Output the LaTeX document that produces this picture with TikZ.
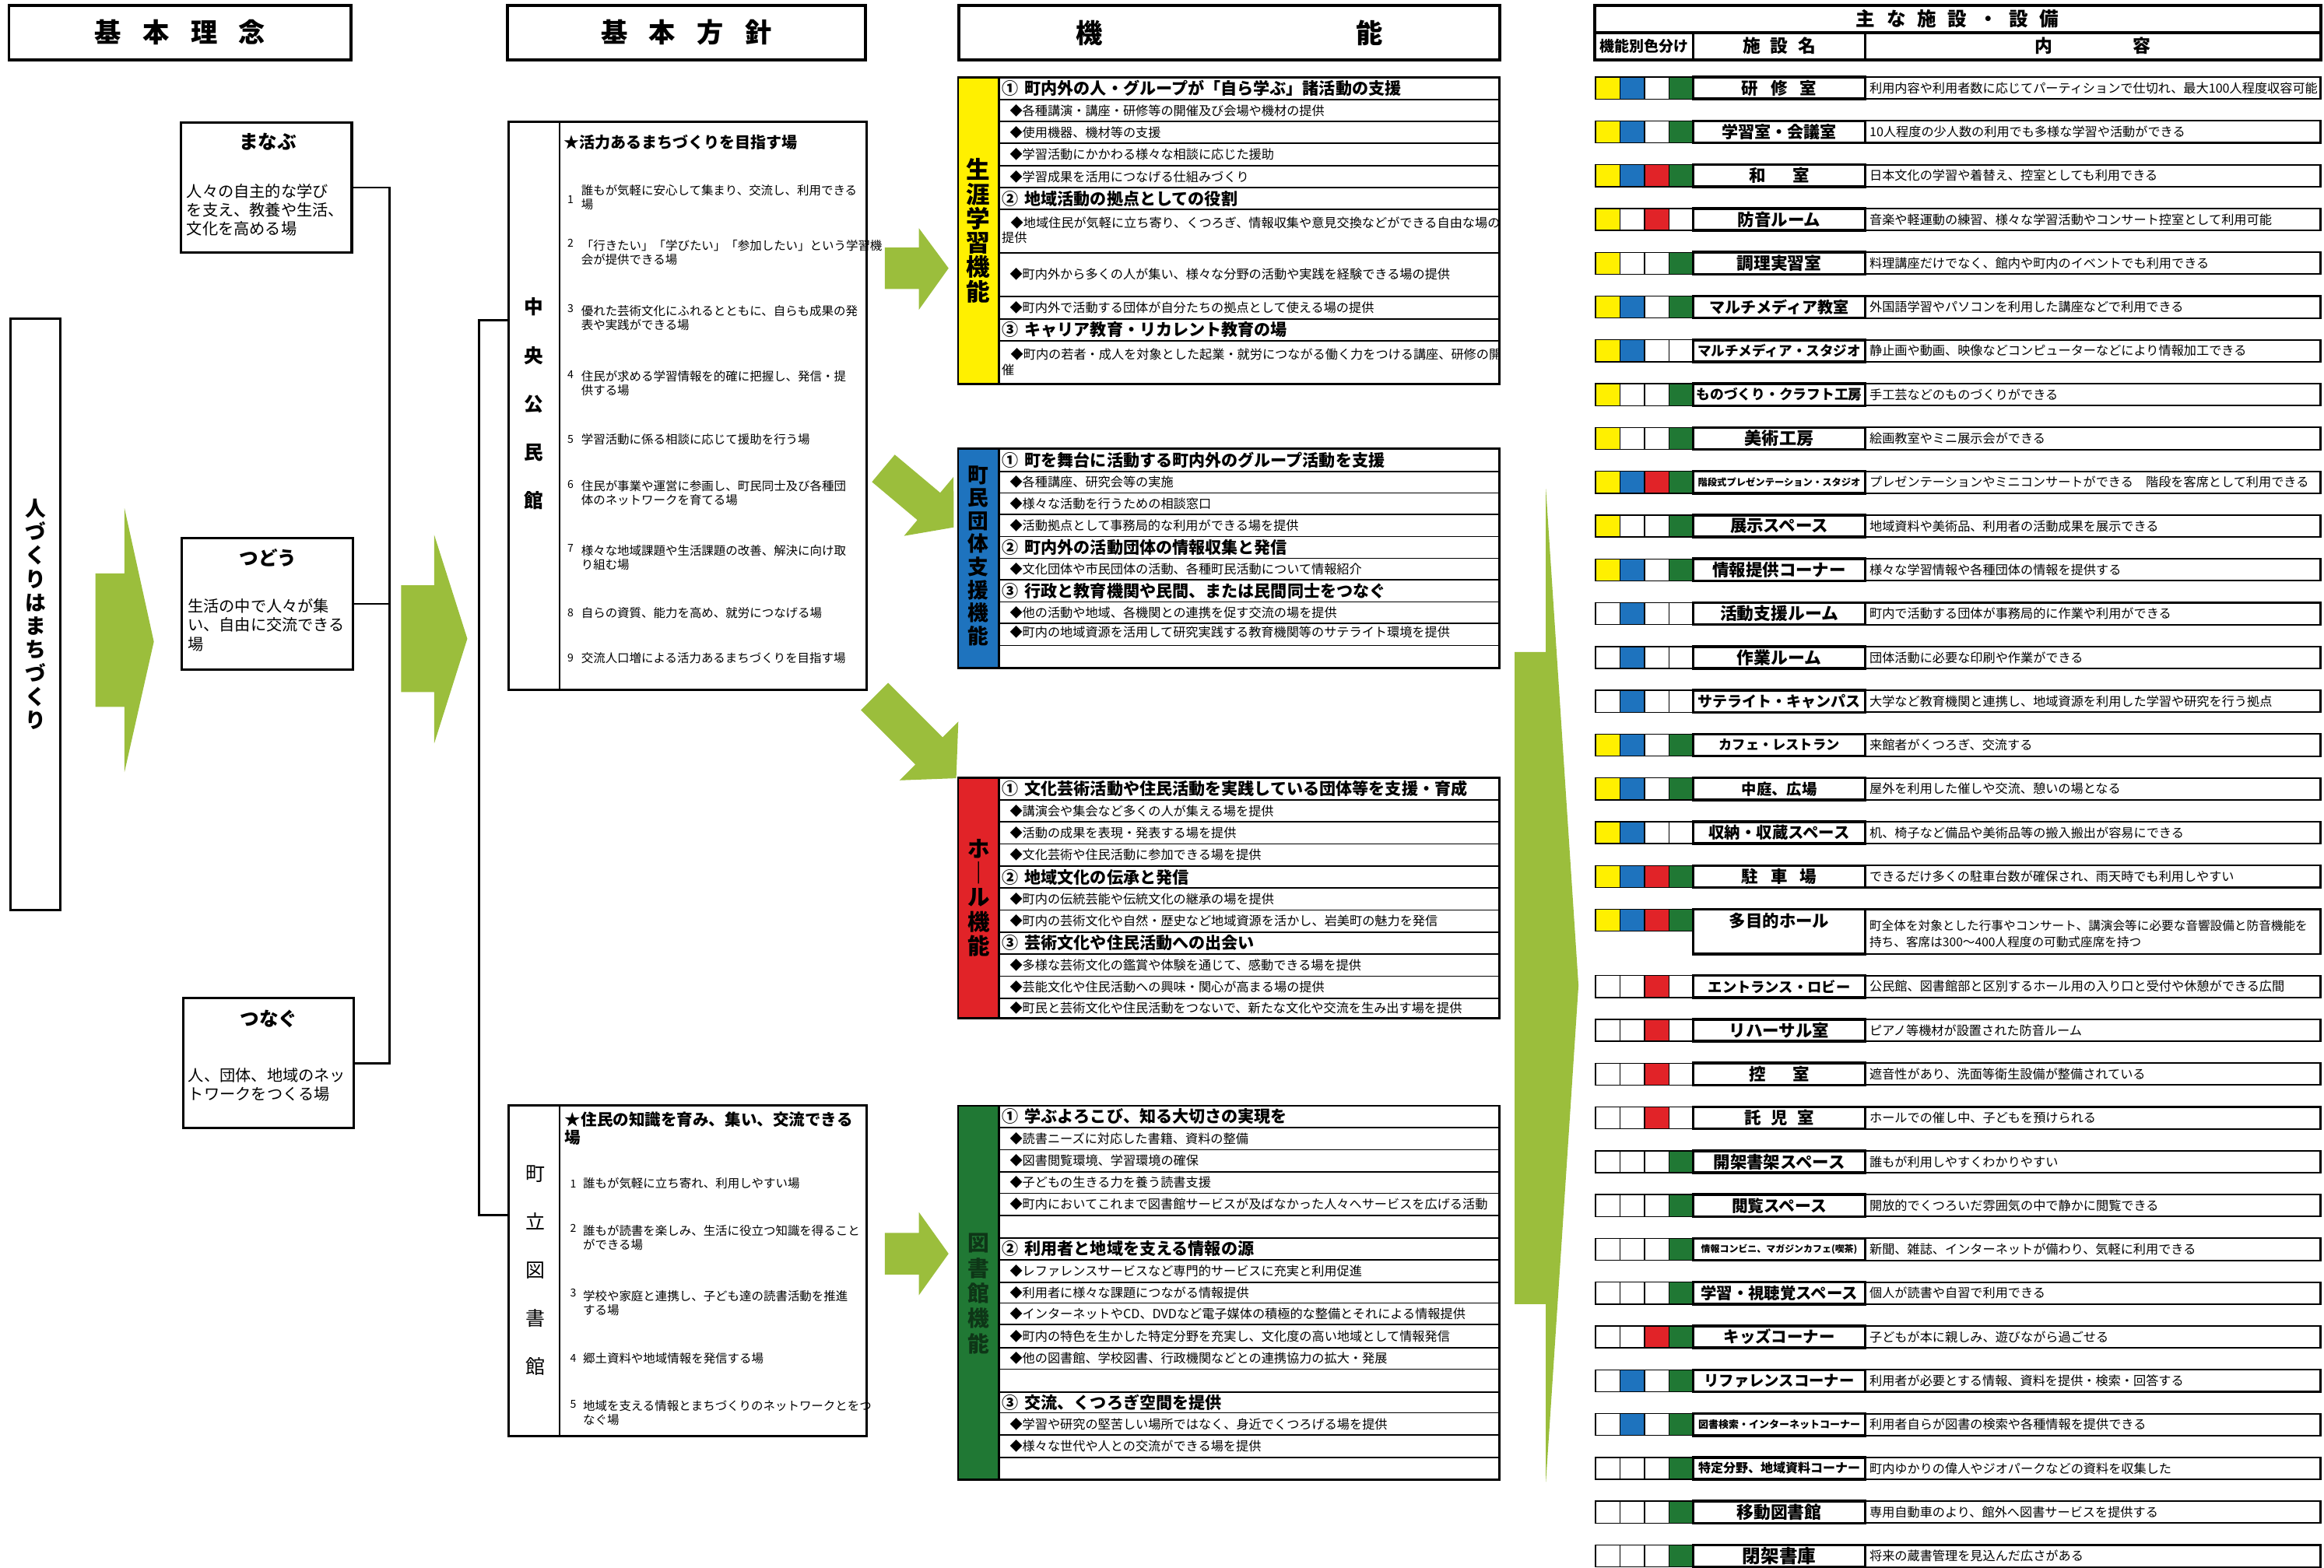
\documentclass[tikz,border=0pt]{standalone}
\usepackage{fontspec}
\setmainfont{Noto Sans CJK JP}
\usetikzlibrary{positioning}

\definecolor{lifeyellow}{RGB}{255,240,0}
\definecolor{groupblue}{RGB}{30,115,190}
\definecolor{hallred}{RGB}{225,35,40}
\definecolor{libgreen}{RGB}{32,120,52}
\definecolor{arrowgreen}{RGB}{155,190,60}

\tikzset{
    headbox/.style={draw, line width=1.1pt, inner sep=0pt, font=\fontsize{9.75}{11}\selectfont\bfseries},
    ideabox/.style={draw, line width=0.9pt, inner sep=0pt},
    ideatitle/.style={inner sep=0pt, font=\fontsize{7}{8}\selectfont\bfseries},
    ideatext/.style={anchor=west, align=left, inner sep=0pt, font=\fontsize{5.75}{6.9}\selectfont},
    policybox/.style={draw, line width=0.9pt, inner sep=0pt},
    ptitle/.style={anchor=west, align=left, inner sep=0pt, font=\fontsize{5.7}{6.6}\selectfont\bfseries},
    pnum/.style={anchor=west, inner sep=0pt, font=\fontsize{4}{5}\selectfont},
    pitem/.style={anchor=west, align=left, inner sep=0pt, font=\fontsize{4.4}{5.15}\selectfont},
    funcframe/.style={draw, line width=0.8pt},
    rowline/.style={line width=0.5pt},
    vlabel/.style={align=center, inner sep=0pt},
    fhead/.style={anchor=west, inner sep=0pt, font=\fontsize{6}{7}\selectfont\bfseries},
    fitem/.style={anchor=west, align=left, inner sep=0pt, font=\fontsize{4.6}{5.5}\selectfont},
    colorcell/.style={draw, line width=0.4pt},
    namecell/.style={draw, line width=1pt},
    textcell/.style={draw, line width=0.6pt},
    facinfo/.style={anchor=west, align=left, inner sep=0pt, font=\fontsize{4.6}{6}\selectfont},
    bracketline/.style={line width=0.8pt},
    bigarrow/.style={fill=arrowgreen}
}

\begin{document}
\begin{tikzpicture}[x=0.01904cm, y=-0.01904cm]
\useasboundingbox (0,0) rectangle (1568,1058);
\fill[white] (0,0) rectangle (1568,1058);

% ===== column heads =====
\node[headbox, minimum width=4.398cm, minimum height=0.706cm] (rinen) at (121.5,22) {基\hspace{.8em}本\hspace{.8em}理\hspace{.8em}念};
\node[headbox, minimum width=4.598cm, minimum height=0.706cm] (hoshin) at (463,22) {基\hspace{.8em}本\hspace{.8em}方\hspace{.8em}針};
\node[headbox, minimum width=6.950cm, minimum height=0.706cm] (kino) at (829.5,22) {機\hspace{9.5em}能};

% ===== basic idea =====
\node[draw, line width=0.9pt, minimum width=0.64cm, minimum height=7.6cm, align=center, inner sep=0pt,
      font=\fontsize{7.6}{8.6}\selectfont\bfseries] (hito) at (24.1,414.5) {人\\づ\\く\\り\\は\\ま\\ち\\づ\\く\\り};

\node[ideabox, minimum width=2.197cm, minimum height=1.677cm] (manabu) at (179.7,126.55) {};
\node[ideatitle] (manabuT) at (180.7,95.6) {まなぶ};
\node[ideatext] (manabuB) at (125.6,141.6) {人々の自主的な学び\\を支え、教養や生活、\\文化を高める場};

\node[ideabox, minimum width=2.199cm, minimum height=1.685cm] (tsudou) at (180.25,407.5) {};
\node[ideatitle] (tsudouT) at (181,376.5) {つどう};
\node[ideatext] (tsudouB) at (126.3,421.8) {生活の中で人々が集\\い、自由に交流できる\\場};

\node[ideabox, minimum width=2.193cm, minimum height=1.668cm] (tsunagu) at (181.2,717.4) {};
\node[ideatitle] (tsunaguT) at (181.5,687.3) {つなぐ};
\node[ideatext] (tsunaguB) at (126.7,732) {人、団体、地域のネッ\\トワークをつくる場};

\draw[bracketline] (manabu.east) -| (262.7,717.4) -- (tsunagu.east);
\draw[bracketline] (tsudou.east) -- (tsudou.east -| 262.7,0);

% green arrows
\fill[bigarrow] (64.4,387) -- (84,387) -- (84,343) -- (103.8,433) -- (84,521) -- (84,477) -- (64.4,477) -- cycle;
\fill[bigarrow] (270.6,395) -- (293,395) -- (293,361) -- (315.3,431) -- (293,501.6) -- (293,467) -- (270.6,467) -- cycle;
\fill[bigarrow] (597,167) -- (620,167) -- (620,154) -- (640,181) -- (620,209) -- (620,195) -- (597,195) -- cycle;
\fill[bigarrow] (597,832) -- (620,832) -- (620,818) -- (640,846) -- (620,874) -- (620,860) -- (597,860) -- cycle;
\begin{scope}[shift={(596,316)}, rotate=-40]
    \fill[bigarrow] (0,-12) -- (40,-12) -- (40,-26) -- (62,0) -- (40,26) -- (40,12) -- (0,12) -- cycle;
\end{scope}
\begin{scope}[shift={(590,470)}, rotate=-45]
    \fill[bigarrow] (0,-13) -- (52,-13) -- (52,-28) -- (78,0) -- (52,28) -- (52,13) -- (0,13) -- cycle;
\end{scope}
\fill[bigarrow] (1022,440) -- (1043,440) -- (1043,330) -- (1065,665) -- (1043,1000) -- (1043,880) -- (1022,880) -- cycle;

% ===== basic policy: kominkan =====
\node[policybox, minimum width=4.600cm, minimum height=7.302cm] (kominkan) at (463.9,273.75) {};
\draw[line width=0.7pt] (377.5,82) -- (377.5,465.5);
\node[vlabel, font=\fontsize{7}{17.7}\selectfont\bfseries] (kominkanL) at (360,272.5) {中\\央\\公\\民\\館};
\node[ptitle] (kominkanT) at (380,96) {★活力あるまちづくりを目指す場};
\node[pnum] (kn1) at (382.5,134.6) {1};
\node[pitem] (ki1) at (391.8,133.4) {誰もが気軽に安心して集まり、交流し、利用できる\\場};
\node[pnum] (kn2) at (382.5,163.9) {2};
\node[pitem] (ki2) at (391.8,170.3) {「行きたい」「学びたい」「参加したい」という学習機\\会が提供できる場};
\node[pnum] (kn3) at (382.5,208.3) {3};
\node[pitem] (ki3) at (391.8,214.8) {優れた芸術文化にふれるとともに、自らも成果の発\\表や実践ができる場};
\node[pnum] (kn4) at (382.5,253) {4};
\node[pitem] (ki4) at (391.8,258.8) {住民が求める学習情報を的確に把握し、発信・提\\供する場};
\node[pnum] (kn5) at (382.5,296.3) {5};
\node[pitem] (ki5) at (391.8,296.3) {学習活動に係る相談に応じて援助を行う場};
\node[pnum] (kn6) at (382.5,326.9) {6};
\node[pitem] (ki6) at (391.8,332.6) {住民が事業や運営に参画し、町民同士及び各種団\\体のネットワークを育てる場};
\node[pnum] (kn7) at (382.5,370.1) {7};
\node[pitem] (ki7) at (391.8,376.5) {様々な地域課題や生活課題の改善、解決に向け取\\り組む場};
\node[pnum] (kn8) at (382.5,413.4) {8};
\node[pitem] (ki8) at (391.8,413.4) {自らの資質、能力を高め、就労につなげる場};
\node[pnum] (kn9) at (382.5,443.9) {9};
\node[pitem] (ki9) at (391.8,443.9) {交流人口増による活力あるまちづくりを目指す場};

% ===== basic policy: toshokan =====
\node[policybox, minimum width=4.600cm, minimum height=4.252cm] (toshokan) at (463.9,857.65) {};
\draw[line width=0.7pt] (377.5,746) -- (377.5,969.3);
\node[vlabel, font=\fontsize{7.1}{17.7}\selectfont] (toshokanL) at (361.4,857.3) {町\\立\\図\\書\\館};
\node[ptitle, font=\fontsize{5.85}{6.6}\selectfont\bfseries] (toshokanT) at (380.8,761.6) {★住民の知識を育み、集い、交流できる\\場};
\node[pnum] (tn1) at (384.3,798.7) {1};
\node[pitem] (ti1) at (393,798.7) {誰もが気軽に立ち寄れ、利用しやすい場};
\node[pnum] (tn2) at (384.3,828.6) {2};
\node[pitem] (ti2) at (393,835.2) {誰もが読書を楽しみ、生活に役立つ知識を得ること\\ができる場};
\node[pnum] (tn3) at (384.3,872.7) {3};
\node[pitem] (ti3) at (393,879.3) {学校や家庭と連携し、子ども達の読書活動を推進\\する場};
\node[pnum] (tn4) at (384.3,916.8) {4};
\node[pitem] (ti4) at (393,916.8) {郷土資料や地域情報を発信する場};
\node[pnum] (tn5) at (384.3,947.8) {5};
\node[pitem] (ti5) at (393,953.4) {地域を支える情報とまちづくりのネットワークとをつ\\なぐ場};

\draw[bracketline] (kominkan.west |- 0,216) -- (323,216) |- (toshokan.west |- 0,820);

% ===== function: lifelong learning =====
\fill[lifeyellow] (646.4,52.2) rectangle (674,259.1);
\foreach \ry in {67.1,81.9,96.8,111.7,126.6,141.4,170.7,200.1,215.3,229.9}
    \draw[rowline] (674,\ry) -- (1011.5,\ry);
\draw[funcframe] (646.4,52.2) rectangle (1011.5,259.1);
\draw[funcframe] (674,52.2) -- (674,259.1);
\node[vlabel, font=\fontsize{8.7}{8.9}\selectfont\bfseries] (lifeL) at (660.2,155.6) {生\\涯\\学\\習\\機\\能};
\node[fhead] (life1) at (675.5,59.65) {①\hspace{.4em}町内外の人・グループが「自ら学ぶ」諸活動の支援};
\node[fitem] (life2) at (681,74.5) {◆各種講演・講座・研修等の開催及び会場や機材の提供};
\node[fitem] (life3) at (681,89.35) {◆使用機器、機材等の支援};
\node[fitem] (life4) at (681,104.25) {◆学習活動にかかわる様々な相談に応じた援助};
\node[fitem] (life5) at (681,119.15) {◆学習成果を活用につなげる仕組みづくり};
\node[fhead] (life6) at (675.5,134) {②\hspace{.4em}地域活動の拠点としての役割};
\node[fitem] (life7) at (675.5,155.4) {\hspace*{3.3pt}◆地域住民が気軽に立ち寄り、くつろぎ、情報収集や意見交換などができる自由な場の\\提供};
\node[fitem] (life8) at (681,185) {◆町内外から多くの人が集い、様々な分野の活動や実践を経験できる場の提供};
\node[fitem] (life9) at (681,207.7) {◆町内外で活動する団体が自分たちの拠点として使える場の提供};
\node[fhead] (life10) at (675.5,222.6) {③\hspace{.4em}キャリア教育・リカレント教育の場};
\node[fitem] (life11) at (675.5,244.3) {\hspace*{3.3pt}◆町内の若者・成人を対象とした起業・就労につながる働く力をつける講座、研修の開\\催};

% ===== function: group support =====
\fill[groupblue] (646.4,302.9) rectangle (674,450.8);
\foreach \ry in {318.1,332.6,347.2,362,376.8,391.3,406.2,420.7,435.6}
    \draw[rowline] (674,\ry) -- (1011.5,\ry);
\draw[funcframe] (646.4,302.9) rectangle (1011.5,450.8);
\draw[funcframe] (674,302.9) -- (674,450.8);
\node[vlabel, font=\fontsize{7.6}{8.4}\selectfont\bfseries] (groupL) at (660.2,375) {町\\民\\団\\体\\支\\援\\機\\能};
\node[fhead] (group1) at (675.5,310.5) {①\hspace{.4em}町を舞台に活動する町内外のグループ活動を支援};
\node[fitem] (group2) at (681,325.35) {◆各種講座、研究会等の実施};
\node[fitem] (group3) at (681,339.9) {◆様々な活動を行うための相談窓口};
\node[fitem] (group4) at (681,354.6) {◆活動拠点として事務局的な利用ができる場を提供};
\node[fhead] (group5) at (675.5,369.4) {②\hspace{.4em}町内外の活動団体の情報収集と発信};
\node[fitem] (group6) at (681,384.05) {◆文化団体や市民団体の活動、各種町民活動について情報紹介};
\node[fhead] (group7) at (675.5,398.75) {③\hspace{.4em}行政と教育機関や民間、または民間同士をつなぐ};
\node[fitem] (group8) at (681,413.45) {◆他の活動や地域、各機関との連携を促す交流の場を提供};
\node[fitem] (group9) at (681,426.8) {◆町内の地域資源を活用して研究実践する教育機関等のサテライト環境を提供};

% ===== function: hall =====
\fill[hallred] (646.4,524.7) rectangle (674,687.2);
\foreach \ry in {539.7,554.6,569.5,584.4,599.3,614.1,629,643.9,658.8,673.7}
    \draw[rowline] (674,\ry) -- (1011.5,\ry);
\draw[funcframe] (646.4,524.7) rectangle (1011.5,687.2);
\draw[funcframe] (674,524.7) -- (674,687.2);
\node[vlabel, font=\fontsize{8.1}{8.9}\selectfont\bfseries] (hallL) at (660.2,605.8) {ホ\\｜\\ル\\機\\能};
\node[fhead] (hall1) at (675.5,532.2) {①\hspace{.4em}文化芸術活動や住民活動を実践している団体等を支援・育成};
\node[fitem] (hall2) at (681,547.15) {◆講演会や集会など多くの人が集える場を提供};
\node[fitem] (hall3) at (681,562.05) {◆活動の成果を表現・発表する場を提供};
\node[fitem] (hall4) at (681,576.95) {◆文化芸術や住民活動に参加できる場を提供};
\node[fhead] (hall5) at (675.5,591.85) {②\hspace{.4em}地域文化の伝承と発信};
\node[fitem] (hall6) at (681,606.7) {◆町内の伝統芸能や伝統文化の継承の場を提供};
\node[fitem] (hall7) at (681,621.55) {◆町内の芸術文化や自然・歴史など地域資源を活かし、岩美町の魅力を発信};
\node[fhead] (hall8) at (675.5,636.45) {③\hspace{.4em}芸術文化や住民活動への出会い};
\node[fitem] (hall9) at (681,651.35) {◆多様な芸術文化の鑑賞や体験を通じて、感動できる場を提供};
\node[fitem] (hall10) at (681,666.25) {◆芸能文化や住民活動への興味・関心が高まる場の提供};
\node[fitem] (hall11) at (681,680.45) {◆町民と芸術文化や住民活動をつないで、新たな文化や交流を生み出す場を提供};

% ===== function: library =====
\fill[libgreen] (646.4,746.2) rectangle (674,998.4);
\foreach \ry in {760.8,775.8,790.8,805.3,820.2,835.3,850.2,865.2,879.3,893.9,909.3,923.9,939.3,953.4,968.4,983.4}
    \draw[rowline] (674,\ry) -- (1011.5,\ry);
\draw[funcframe] (646.4,746.2) rectangle (1011.5,998.4);
\draw[funcframe] (674,746.2) -- (674,998.4);
\node[vlabel, font=\fontsize{7.9}{9.2}\selectfont\bfseries, text=libgreen!45!black] (libL) at (660.2,873) {図\\書\\館\\機\\能};
\node[fhead] (lib1) at (675.5,753.5) {①\hspace{.4em}学ぶよろこび、知る大切さの実現を};
\node[fitem] (lib2) at (681,768.3) {◆読書ニーズに対応した書籍、資料の整備};
\node[fitem] (lib3) at (681,783.3) {◆図書閲覧環境、学習環境の確保};
\node[fitem] (lib4) at (681,798.05) {◆子どもの生きる力を養う読書支援};
\node[fitem] (lib5) at (681,812.75) {◆町内においてこれまで図書館サービスが及ばなかった人々へサービスを広げる活動};
\node[fhead] (lib6) at (675.5,842.75) {②\hspace{.4em}利用者と地域を支える情報の源};
\node[fitem] (lib7) at (681,857.7) {◆レファレンスサービスなど専門的サービスに充実と利用促進};
\node[fitem] (lib8) at (681,872.25) {◆利用者に様々な課題につながる情報提供};
\node[fitem] (lib9) at (681,886.6) {◆インターネットやCD、DVDなど電子媒体の積極的な整備とそれによる情報提供};
\node[fitem] (lib10) at (681,901.6) {◆町内の特色を生かした特定分野を充実し、文化度の高い地域として情報発信};
\node[fitem] (lib11) at (681,916.6) {◆他の図書館、学校図書、行政機関などとの連携協力の拡大・発展};
\node[fhead] (lib12) at (675.5,946.35) {③\hspace{.4em}交流、くつろぎ空間を提供};
\node[fitem] (lib13) at (681,960.9) {◆学習や研究の堅苦しい場所ではなく、身近でくつろげる場を提供};
\node[fitem] (lib14) at (681,975.9) {◆様々な世代や人との交流ができる場を提供};

% ===== facilities table =====
\draw[line width=1.1pt] (1075.8,3.5) rectangle (1565.7,21.9);
\draw[line width=1.1pt] (1075.8,21.9) rectangle (1565.7,40.3);
\draw[line width=0.8pt] (1142.5,21.9) -- (1142.5,40.3);
\draw[line width=0.8pt] (1258.4,21.9) -- (1258.4,40.3);
\node[font=\fontsize{7}{8}\selectfont\bfseries] (tabT) at (1320.7,12.7) {主\hspace{.6em}な\hspace{.6em}施\hspace{.6em}設\hspace{.6em}・\hspace{.6em}設\hspace{.6em}備};
\node[font=\fontsize{5.4}{6}\selectfont\bfseries] (tabC) at (1109.2,31.1) {機能別色分け};
\node[font=\fontsize{6.5}{7}\selectfont\bfseries] (tabN) at (1200.45,31.1) {施\hspace{.55em}設\hspace{.55em}名};
\node[font=\fontsize{6.5}{7}\selectfont\bfseries] (tabI) at (1412,31.1) {内\hspace{4.5em}容};

\foreach \i/\cy/\cb/\cr/\cg/\nsz/\nm/\ct in {
    1/lifeyellow/groupblue/white/libgreen/6.1/{研\hspace{.75em}修\hspace{.75em}室}/{利用内容や利用者数に応じてパーティションで仕切れ、最大100人程度収容可能},
    2/lifeyellow/groupblue/white/libgreen/6/{学習室・会議室}/{10人程度の少人数の利用でも多様な学習や活動ができる},
    3/lifeyellow/groupblue/hallred/libgreen/6.1/{和\hspace{1.6em}室}/{日本文化の学習や着替え、控室としても利用できる},
    4/lifeyellow/white/hallred/white/6.1/{防音ルーム}/{音楽や軽運動の練習、様々な学習活動やコンサート控室として利用可能},
    5/lifeyellow/white/white/libgreen/6.2/{調理実習室}/{料理講座だけでなく、館内や町内のイベントでも利用できる},
    6/lifeyellow/groupblue/white/libgreen/5.7/{マルチメディア教室}/{外国語学習やパソコンを利用した講座などで利用できる},
    7/lifeyellow/groupblue/white/white/5/{マルチメディア・スタジオ}/{静止画や動画、映像などコンピューターなどにより情報加工できる},
    8/lifeyellow/white/white/libgreen/5.05/{ものづくり・クラフト工房}/{手工芸などのものづくりができる},
    9/lifeyellow/white/white/libgreen/6.3/{美術工房}/{絵画教室やミニ展示会ができる},
    10/lifeyellow/groupblue/hallred/libgreen/3.5/{階段式プレゼンテーション・スタジオ}/{プレゼンテーションやミニコンサートができる\hspace{1em}階段を客席として利用できる},
    11/lifeyellow/white/white/libgreen/6.1/{展示スペース}/{地域資料や美術品、利用者の活動成果を展示できる},
    12/lifeyellow/groupblue/white/libgreen/6.1/{情報提供コーナー}/{様々な学習情報や各種団体の情報を提供する},
    13/white/groupblue/white/white/6.2/{活動支援ルーム}/{町内で活動する団体が事務局的に作業や利用ができる},
    14/white/groupblue/white/white/6.2/{作業ルーム}/{団体活動に必要な印刷や作業ができる},
    15/white/groupblue/white/white/5.4/{サテライト・キャンパス}/{大学など教育機関と連携し、地域資源を利用した学習や研究を行う拠点},
    16/lifeyellow/groupblue/white/libgreen/4.9/{カフェ・レストラン}/{来館者がくつろぎ、交流する},
    17/lifeyellow/groupblue/white/libgreen/5.5/{中庭、広場}/{屋外を利用した催しや交流、憩いの場となる},
    18/lifeyellow/groupblue/white/white/5.8/{収納・収蔵スペース}/{机、椅子など備品や美術品等の搬入搬出が容易にできる},
    19/lifeyellow/groupblue/hallred/libgreen/6.1/{駐\hspace{.75em}車\hspace{.75em}場}/{できるだけ多くの駐車台数が確保され、雨天時でも利用しやすい},
    21/white/white/hallred/white/5.2/{エントランス・ロビー}/{公民館、図書館部と区別するホール用の入り口と受付や休憩ができる広間},
    22/white/white/hallred/white/6.1/{リハーサル室}/{ピアノ等機材が設置された防音ルーム},
    23/white/white/hallred/white/6.1/{控\hspace{1.6em}室}/{遮音性があり、洗面等衛生設備が整備されている},
    24/white/white/hallred/white/6.1/{託\hspace{.6em}児\hspace{.6em}室}/{ホールでの催し中、子どもを預けられる},
    25/white/white/white/libgreen/6.1/{開架書架スペース}/{誰もが利用しやすくわかりやすい},
    26/white/white/white/libgreen/5.9/{閲覧スペース}/{開放的でくつろいだ雰囲気の中で静かに閲覧できる},
    27/white/white/white/libgreen/3.4/{情報コンビニ、マガジンカフェ(喫茶)}/{新聞、雑誌、インターネットが備わり、気軽に利用できる},
    28/white/white/white/libgreen/5.8/{学習・視聴覚スペース}/{個人が読書や自習で利用できる},
    29/white/white/hallred/libgreen/5.8/{キッズコーナー}/{子どもが本に親しみ、遊びながら過ごせる},
    30/white/groupblue/white/libgreen/5.5/{リファレンスコーナー}/{利用者が必要とする情報、資料を提供・検索・回答する},
    31/white/groupblue/white/libgreen/3.7/{図書検索・インターネットコーナー}/{利用者自らが図書の検索や各種情報を提供できる},
    32/white/white/white/libgreen/4.55/{特定分野、地域資料コーナー}/{町内ゆかりの偉人やジオパークなどの資料を収集した},
    33/white/white/white/libgreen/6.2/{移動図書館}/{専用自動車のより、館外へ図書サービスを提供する},
    34/white/white/white/libgreen/6.7/{閉架書庫}/{将来の蔵書管理を見込んだ広さがある}} {
    \pgfmathsetmacro\ty{52+29.56*(\i-1)+(\i>20)*15.1}
    \draw[colorcell, fill=\cy] (1076.5,\ty) rectangle (1093,\ty+14.8);
    \draw[colorcell, fill=\cb] (1093,\ty) rectangle (1109.6,\ty+14.8);
    \draw[colorcell, fill=\cr] (1109.6,\ty) rectangle (1126,\ty+14.8);
    \draw[colorcell, fill=\cg] (1126,\ty) rectangle (1142.5,\ty+14.8);
    \draw[namecell] (1142.5,\ty) rectangle (1258.4,\ty+14.8);
    \draw[textcell] (1258.4,\ty) rectangle (1565.6,\ty+14.8);
    \node[inner sep=0pt, font=\fontsize{\nsz}{\nsz}\selectfont\bfseries] (fac\i) at (1200.45,\ty+7.4) {\nm};
    \node[facinfo] (info\i) at (1261,\ty+7.4) {\ct};
}

% multi-purpose hall row
\draw[colorcell, fill=lifeyellow] (1076.5,613.6) rectangle (1093,628.4);
\draw[colorcell, fill=groupblue] (1093,613.6) rectangle (1109.6,628.4);
\draw[colorcell, fill=hallred] (1109.6,613.6) rectangle (1126,628.4);
\draw[colorcell, fill=libgreen] (1126,613.6) rectangle (1142.5,628.4);
\draw[namecell] (1142.5,613.6) rectangle (1258.4,643.9);
\draw[textcell] (1258.4,613.6) rectangle (1565.6,643.9);
\node[inner sep=0pt, font=\fontsize{6.1}{6.1}\selectfont\bfseries] (fac20) at (1200.45,621.5) {多目的ホール};
\node[facinfo, font=\fontsize{4.45}{6}\selectfont] (info20) at (1261,630) {町全体を対象とした行事やコンサート、講演会等に必要な音響設備と防音機能を\\持ち、客席は300～400人程度の可動式座席を持つ};

\end{tikzpicture}
\end{document}
